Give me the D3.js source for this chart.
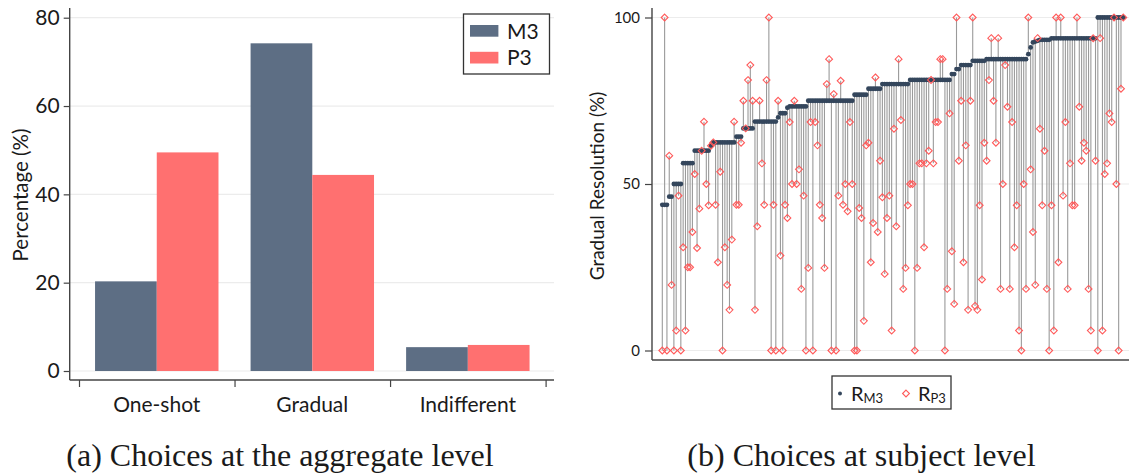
<!DOCTYPE html>
<html>
<head>
<meta charset="utf-8">
<script src="https://cdn.jsdelivr.net/npm/d3@7"></script>
<style>
  body { margin: 0; background: #fff; }
  text { font-family: Lato, "Open Sans", sans-serif; fill: #1a1a1a; }
  .caption { font-family: "Liberation Serif", "DejaVu Serif", serif; }
</style>
</head>
<body>
<svg id="chart" width="1129" height="473"></svg>
<script>
// (a) aggregate shares, %
const categories = ["One-shot", "Gradual", "Indifferent"];
const series = ["M3", "P3"];
const m3Share = [20.3, 74.2, 5.4];
const p3Share = [49.5, 44.4, 5.9];
const yTicksL = [0, 20, 40, 60, 80];

// (b) gradual resolution per subject, sorted by M3, %
const rM3 = [
  43.75, 43.75, 43.75, 46.2, 46.2, 50, 50, 50, 50, 56.25,
  56.25, 56.25, 56.25, 56.25, 60, 60, 60, 60, 60, 60,
  60, 61.5, 62.5, 62.5, 62.5, 62.5, 62.5, 62.5, 62.5, 62.5,
  62.5, 62.5, 64.2, 64.2, 64.2, 66.7, 66.7, 66.7, 66.7, 66.7,
  68.75, 68.75, 68.75, 68.75, 68.75, 68.75, 68.75, 68.75, 68.75, 68.75,
  70, 71.25, 71.25, 71.25, 72.9, 73.3, 73.3, 73.3, 73.3, 73.3,
  73.3, 73.3, 73.3, 75, 75, 75, 75, 75, 75, 75,
  75, 75, 75, 75, 75, 75, 75, 75, 75, 75,
  75, 75, 75, 76.8, 76.8, 76.8, 76.8, 76.8, 76.8, 78.6,
  78.6, 78.6, 78.6, 78.6, 78.6, 80, 80, 80, 80, 80,
  80, 80, 80, 80, 80, 80, 80, 81.25, 81.25, 81.25,
  81.25, 81.25, 81.25, 81.25, 81.25, 81.25, 81.25, 81.25, 81.25, 81.25,
  81.25, 81.25, 81.25, 81.25, 81.25, 83, 83, 84.5, 84.5, 85.7,
  85.7, 85.7, 85.7, 85.7, 87, 87, 87, 87, 87, 87,
  87.5, 87.5, 87.5, 87.5, 87.5, 87.5, 87.5, 87.5, 87.5, 87.5,
  87.5, 87.5, 87.5, 87.5, 87.5, 87.5, 87.5, 87.5, 89, 91,
  92.5, 92.8, 93, 93.3, 93.3, 93.3, 93.3, 93.3, 93.75, 93.75,
  93.75, 93.75, 93.75, 93.75, 93.75, 93.75, 93.75, 93.75, 93.75, 93.75,
  93.75, 93.75, 93.75, 93.75, 93.75, 93.75, 93.75, 93.75, 100, 100,
  100, 100, 100, 100, 100, 100, 100, 100, 100, 100
];
const rP3 = [
  0, 100, 0, 58.5, 19.7, 0, 6, 46.5, 0, 31,
  6, 25, 25, 35.6, 53, 30.8, 42.6, 60, 68.7, 50,
  43.6, 61.5, 62.5, 43.75, 26.5, 53.7, 0, 31, 19.7, 12.2,
  33.3, 68.7, 43.75, 43.75, 62.4, 75, 66.7, 81.2, 85.7, 75,
  12.2, 37.3, 75, 56.2, 43.75, 81.2, 100, 0, 43.75, 0,
  75, 28.5, 0, 43.75, 39.8, 68.6, 50, 75, 50, 54.4,
  18.5, 46.5, 0, 24.8, 68.6, 0, 68.6, 61.6, 43.75, 39.8,
  24.8, 80, 87.5, 0, 77, 0, 46.5, 81, 43.75, 50,
  41.8, 68.6, 50, 0, 0, 42.8, 39.8, 8.9, 61.6, 62.4,
  26.5, 38.3, 82, 35.6, 57, 46, 23, 39.8, 46.5, 6,
  66.6, 37.3, 87.5, 69.2, 18.5, 24.8, 43.6, 50, 50, 0,
  24.8, 56.2, 56.2, 31, 56.2, 60, 81.25, 56.2, 68.6, 68.6,
  87.5, 87.5, 0, 18.5, 71.2, 29.8, 14, 100, 57, 75,
  26.5, 61.6, 12.2, 75, 100, 13.4, 12.2, 43.6, 21.3, 62.4,
  57, 81.2, 93.8, 75, 62.4, 93.8, 18.5, 50, 85.7, 73.2,
  18.5, 68.6, 31, 43.6, 6, 0, 50, 18.5, 100, 54.4,
  35.6, 19.7, 93.8, 66.6, 43.6, 60, 18.5, 0, 43.6, 6,
  100, 26.5, 100, 46.5, 68.6, 18.5, 56.2, 43.6, 43.6, 100,
  73.2, 57, 62.4, 60, 18.5, 6, 93.75, 57, 0, 93.8,
  6, 53, 56.2, 71.2, 68.6, 100, 50, 0, 78.6, 100
];
const yTicksR = [0, 50, 100];

const colM3 = "#5d6e84";
const colP3 = "#ff7070";
const dotM3 = "#34465c";
const diaP3 = "#ff5a5a";
const axisCol = "#444";

const svg = d3.select("#chart");
svg.append("rect").attr("width", 1129).attr("height", 473).attr("fill", "#fff");

// ---------- panel (a) ----------
const axL0 = 69.7, axR0 = 554;
const yL = d3.scaleLinear().domain([0, 80]).range([371, 17.7]);
const xGroup = d3.scaleBand().domain(categories).range([79, 545.6]);
const xSeries = d3.scaleBand().domain(series).range([0, xGroup.bandwidth()]).paddingOuter(0.26);

svg.append("g").selectAll("line").data(yTicksL).join("line")
  .attr("x1", axL0).attr("x2", axR0)
  .attr("y1", d => yL(d)).attr("y2", d => yL(d))
  .attr("stroke", "#ececec").attr("stroke-width", 1.2);

const rows = categories.map((c, i) => ({ cat: c, M3: m3Share[i], P3: p3Share[i] }));
svg.append("g").selectAll("g").data(rows).join("g")
  .attr("transform", d => `translate(${xGroup(d.cat)},0)`)
  .selectAll("rect").data(d => series.map(s => ({ s, v: d[s] }))).join("rect")
  .attr("x", d => xSeries(d.s))
  .attr("width", xSeries.bandwidth())
  .attr("y", d => yL(d.v))
  .attr("height", d => yL(0) - yL(d.v))
  .attr("fill", d => d.s === "M3" ? colM3 : colP3);

const axL = svg.append("g").attr("transform", `translate(${axL0},0)`)
  .call(d3.axisLeft(yL).tickValues(yTicksL).tickSize(6).tickPadding(4));
axL.select(".domain").remove();
axL.selectAll("line").attr("stroke", axisCol).attr("stroke-width", 1.2);
axL.selectAll("text").style("font-size", "21px").attr("fill", "#1a1a1a");
svg.append("line").attr("x1", axL0).attr("x2", axL0).attr("y1", 8).attr("y2", 380)
  .attr("stroke", axisCol).attr("stroke-width", 1.4);

const xEdge = d3.scaleLinear().domain([0, categories.length]).range(xGroup.range());
const axB = svg.append("g").attr("transform", "translate(0,380)")
  .call(d3.axisBottom(xEdge).tickValues(d3.range(categories.length + 1)).tickSize(7).tickFormat(""));
axB.select(".domain").remove();
axB.selectAll("line").attr("stroke", axisCol).attr("stroke-width", 1.2);
svg.append("line").attr("x1", axL0).attr("x2", axR0).attr("y1", 380).attr("y2", 380)
  .attr("stroke", axisCol).attr("stroke-width", 1.4);

svg.append("g").selectAll("text").data(categories).join("text")
  .attr("x", d => xGroup(d) + xGroup.bandwidth() / 2)
  .attr("y", 411.5)
  .attr("text-anchor", "middle")
  .style("font-size", "21px")
  .text(d => d);

svg.append("text")
  .attr("transform", "translate(28,195) rotate(-90)")
  .attr("text-anchor", "middle")
  .style("font-size", "20.5px")
  .text("Percentage (%)");

// legend (a)
const legA = svg.append("g");
legA.append("rect").attr("x", 463.5).attr("y", 14).attr("width", 86).attr("height", 60)
  .attr("fill", "#fff").attr("stroke", "#333").attr("stroke-width", 1.3);
series.forEach((s, i) => {
  legA.append("rect").attr("x", 470).attr("y", 25 + i * 26.8).attr("width", 28.4).attr("height", 11.7)
    .attr("fill", s === "M3" ? colM3 : colP3);
  legA.append("text").attr("x", 507).attr("y", 38.5 + i * 26.8)
    .style("font-size", "21px").text(s);
});

svg.append("text").attr("class", "caption")
  .attr("x", 280).attr("y", 466).attr("text-anchor", "middle")
  .style("font-size", "32px")
  .text("(a) Choices at the aggregate level");

// ---------- panel (b) ----------
const xR = d3.scaleLinear().domain([1, rM3.length]).range([662.3, 1123.3]);
const yR = d3.scaleLinear().domain([0, 100]).range([350.5, 17.5]);

svg.append("g").selectAll("line").data(yTicksR).join("line")
  .attr("x1", 652).attr("x2", 1129)
  .attr("y1", d => yR(d)).attr("y2", d => yR(d))
  .attr("stroke", "#ececec").attr("stroke-width", 1.2);

const subj = rM3.map((m, i) => ({ i: i + 1, m, p: rP3[i] }));

svg.append("g").selectAll("line").data(subj).join("line")
  .attr("x1", d => xR(d.i)).attr("x2", d => xR(d.i))
  .attr("y1", d => yR(d.m)).attr("y2", d => yR(d.p))
  .attr("stroke", "#9a9a9a").attr("stroke-width", 1.1);

svg.append("g").selectAll("circle").data(subj).join("circle")
  .attr("cx", d => xR(d.i)).attr("cy", d => yR(d.m)).attr("r", 2.4)
  .attr("fill", dotM3);

const diamond = d3.symbol(d3.symbolDiamond2, 30);
svg.append("g").selectAll("path").data(subj).join("path")
  .attr("transform", d => `translate(${xR(d.i)},${yR(d.p)})`)
  .attr("d", diamond)
  .attr("fill", "none").attr("stroke", diaP3).attr("stroke-width", 1.1);

const axR = svg.append("g").attr("transform", "translate(652,0)")
  .call(d3.axisLeft(yR).tickValues(yTicksR).tickSize(7).tickPadding(5));
axR.select(".domain").remove();
axR.selectAll("line").attr("stroke", axisCol).attr("stroke-width", 1.2);
axR.selectAll("text").style("font-size", "15px").attr("fill", "#1a1a1a");
svg.append("line").attr("x1", 652).attr("x2", 652).attr("y1", 8).attr("y2", 360)
  .attr("stroke", axisCol).attr("stroke-width", 1.4);
svg.append("line").attr("x1", 652).attr("x2", 1129).attr("y1", 360).attr("y2", 360)
  .attr("stroke", axisCol).attr("stroke-width", 1.4);

svg.append("text")
  .attr("transform", "translate(604,186) rotate(-90)")
  .attr("text-anchor", "middle")
  .style("font-size", "19px")
  .text("Gradual Resolution (%)");

// legend (b)
const legB = svg.append("g");
legB.append("rect").attr("x", 832).attr("y", 376).attr("width", 119).attr("height", 33)
  .attr("fill", "#fff").attr("stroke", "#333").attr("stroke-width", 1.3);
legB.append("circle").attr("cx", 840).attr("cy", 393.5).attr("r", 2).attr("fill", dotM3);
legB.append("path").attr("transform", "translate(906,393.5)").attr("d", diamond)
  .attr("fill", "none").attr("stroke", diaP3).attr("stroke-width", 1.1);
[["M3", 851], ["P3", 918]].forEach(([s, x]) => {
  const t = legB.append("text").attr("x", x).attr("y", 401).style("font-size", "20px");
  t.append("tspan").text("R");
  t.append("tspan").attr("dy", 2).style("font-size", "13px").text(s);
});

svg.append("text").attr("class", "caption")
  .attr("x", 861.5).attr("y", 466).attr("text-anchor", "middle")
  .style("font-size", "32px")
  .text("(b) Choices at subject level");
</script>
</body>
</html>
